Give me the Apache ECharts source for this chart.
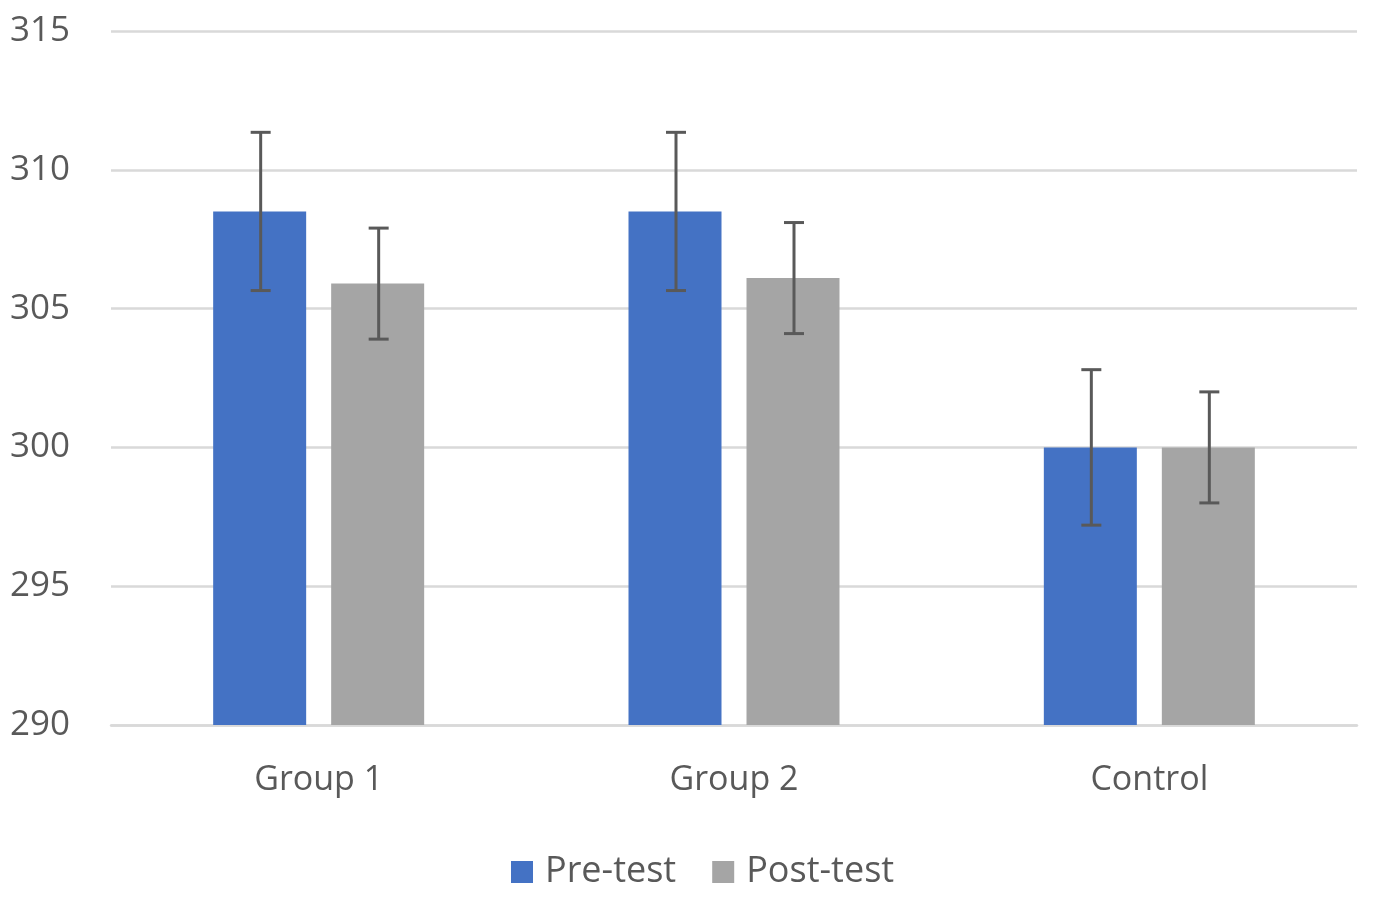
<!DOCTYPE html>
<html><head><meta charset="utf-8">
<script src="https://cdn.jsdelivr.net/npm/echarts@6/dist/echarts.min.js"></script>
<style>html,body{margin:0;padding:0;background:#fff}#c{width:1374px;height:897px}</style>
</head><body><div id="c"></div>
<script>
const categories = ['Group 1', 'Group 2', 'Control'];
const seriesNames = ['Pre-test', 'Post-test'];
const preMean = [308.5, 308.5, 300.0];
const preErr = [2.85, 2.85, 2.8];
const postMean = [305.9, 306.1, 300.0];
const postErr = [2.0, 2.0, 2.0];
const yTicks = { min: 290, max: 315, interval: 5 };

const chart = echarts.init(document.getElementById('c'));
const FONT = 'Open Sans';
const TXT = '#595959';
const BAR_W = 93, GAP = 25;

function errSeries(name, means, errs, sign) {
  return {
    type: 'custom', name: name + ' err', z: 10, silent: true,
    data: means.map((m, i) => [i, m - errs[i], m + errs[i]]),
    renderItem: function (params, api) {
      const i = api.value(0);
      const lo = api.coord([i, api.value(1)]);
      const hi = api.coord([i, api.value(2)]);
      const x = lo[0] + sign * (BAR_W + GAP) / 2 + 1;
      const cap = 10;
      const st = { stroke: '#595959', lineWidth: 3 };
      return { type: 'group', children: [
        { type: 'line', shape: { x1: x, y1: lo[1], x2: x, y2: hi[1] }, style: st },
        { type: 'line', shape: { x1: x - cap, y1: lo[1], x2: x + cap, y2: lo[1] }, style: st },
        { type: 'line', shape: { x1: x - cap, y1: hi[1], x2: x + cap, y2: hi[1] }, style: st }
      ]};
    }
  };
}

chart.setOption({
  animation: false,
  textStyle: { fontFamily: FONT },
  grid: { left: 111, right: 17, top: 31, bottom: 172, containLabel: false },
  legend: {
    data: seriesNames, bottom: 2, left: 506,
    itemWidth: 22, itemHeight: 22, itemGap: 36,
    icon: 'rect',
    textStyle: { fontFamily: FONT, fontSize: 36, color: TXT, padding: [0, 0, 0, 7] }
  },
  xAxis: {
    type: 'category', data: categories,
    axisLine: { show: true, lineStyle: { color: '#D9D9D9', width: 2.5 } },
    axisTick: { show: false },
    axisLabel: { fontFamily: FONT, fontSize: 34, color: TXT, margin: 38 }
  },
  yAxis: {
    type: 'value', min: yTicks.min, max: yTicks.max, interval: yTicks.interval,
    axisLine: { show: false }, axisTick: { show: false },
    splitLine: { lineStyle: { color: '#D9D9D9', width: 2.5 } },
    axisLabel: { fontFamily: FONT, fontSize: 35, color: TXT, align: 'left', margin: 101, lineHeight: 40, padding: [6, 0, 0, 0] }
  },
  series: [
    { name: seriesNames[0], type: 'bar', data: preMean, barWidth: BAR_W, barGap: (GAP / BAR_W * 100) + '%', itemStyle: { color: '#4472C4' } },
    { name: seriesNames[1], type: 'bar', data: postMean, barWidth: BAR_W, itemStyle: { color: '#A5A5A5' } },
    errSeries(seriesNames[0], preMean, preErr, -1),
    errSeries(seriesNames[1], postMean, postErr, 1)
  ]
});
</script></body></html>
